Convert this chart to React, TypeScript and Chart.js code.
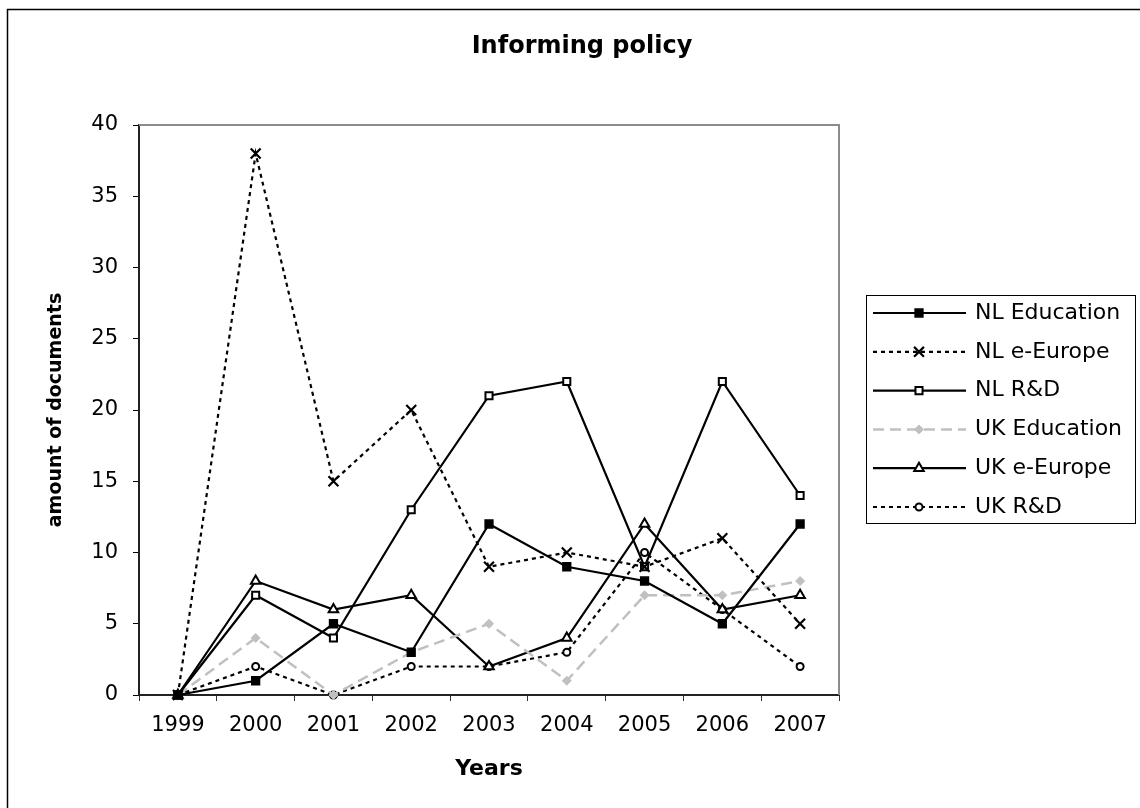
import { useEffect, useRef } from "react";
import { Chart, registerables } from "chart.js";
import { drawPoint } from "chart.js/helpers";

Chart.register(...registerables);

// Publication years on the category axis
const YEARS = ["1999", "2000", "2001", "2002", "2003", "2004", "2005", "2006", "2007"];

// Number of policy documents per year
const NL_EDUCATION = [0, 1, 5, 3, 12, 9, 8, 5, 12];
const NL_E_EUROPE = [0, 38, 15, 20, 9, 10, 9, 11, 5];
const NL_RD = [0, 7, 4, 13, 21, 22, 9, 22, 14];
const UK_EDUCATION = [0, 4, 0, 3, 5, 1, 7, 7, 8];
const UK_E_EUROPE = [0, 8, 6, 7, 2, 4, 12, 6, 7];
const UK_RD = [0, 2, 0, 2, 2, 3, 10, 6, 2];

const Y_MIN = 0;
const Y_MAX = 40;
const Y_STEP = 5;

const TITLE = "Informing policy";
const X_TITLE = "Years";
const Y_TITLE = "amount of documents";

const FONT = "'DejaVu Sans', 'Liberation Sans', Arial, sans-serif";
const GREY = "#c0c0c0";

type Series = {
  label: string;
  data: number[];
  color: string;
  fill: string;
  dash: number[];
  width: number;
  style: string;
  radius: number;
  markerBorder: number;
};

const SERIES: Series[] = [
  { label: "NL Education", data: NL_EDUCATION, color: "#000", fill: "#000", dash: [], width: 2.2, style: "rect", radius: 5.5, markerBorder: 1.5 },
  { label: "NL e-Europe", data: NL_E_EUROPE, color: "#000", fill: "#000", dash: [4, 4], width: 2.2, style: "crossRot", radius: 7, markerBorder: 2.2 },
  { label: "NL R&D", data: NL_RD, color: "#000", fill: "#fff", dash: [], width: 2.2, style: "rect", radius: 5, markerBorder: 2 },
  { label: "UK Education", data: UK_EDUCATION, color: GREY, fill: GREY, dash: [11, 6], width: 2.5, style: "rectRot", radius: 4.5, markerBorder: 1 },
  { label: "UK e-Europe", data: UK_E_EUROPE, color: "#000", fill: "#fff", dash: [], width: 2.2, style: "triangle", radius: 5.5, markerBorder: 2 },
  { label: "UK R&D", data: UK_RD, color: "#000", fill: "#fff", dash: [4, 4], width: 2.2, style: "circle", radius: 3.5, markerBorder: 2 },
];

// Outer frame, chart title, plot-area frame and the line/marker legend
const decorations = {
  id: "decorations",
  afterDraw(chart: any) {
    const { ctx, chartArea } = chart;
    ctx.save();

    // outer chart border
    ctx.strokeStyle = "#000";
    ctx.lineWidth = 1.5;
    ctx.strokeRect(7.5, 9.5, 1300, 1000);

    // title
    ctx.fillStyle = "#000";
    ctx.font = `bold 24px ${FONT}`;
    ctx.textAlign = "center";
    ctx.textBaseline = "middle";
    ctx.fillText(TITLE, 582, 47);

    // grey top and right edges of the plot area
    ctx.strokeStyle = "#8c8c8c";
    ctx.lineWidth = 2;
    ctx.beginPath();
    ctx.moveTo(chartArea.left, chartArea.top);
    ctx.lineTo(chartArea.right, chartArea.top);
    ctx.lineTo(chartArea.right, chartArea.bottom);
    ctx.stroke();

    // legend
    const boxL = 866.5;
    const boxT = 295.5;
    const boxR = 1135.5;
    const boxB = 523.5;
    ctx.fillStyle = "#fff";
    ctx.fillRect(boxL, boxT, boxR - boxL, boxB - boxT);
    ctx.strokeStyle = "#000";
    ctx.lineWidth = 1;
    ctx.strokeRect(boxL, boxT, boxR - boxL, boxB - boxT);

    const rowTop = 313;
    const rowGap = 38.8;
    const sx0 = 873;
    const sx1 = 966;
    const mx = 919;
    SERIES.forEach((s, i) => {
      const y = rowTop + i * rowGap;
      ctx.strokeStyle = s.color;
      ctx.lineWidth = s.width;
      ctx.setLineDash(s.dash);
      ctx.beginPath();
      ctx.moveTo(sx0, y);
      ctx.lineTo(sx1, y);
      ctx.stroke();
      ctx.setLineDash([]);
      ctx.fillStyle = s.fill;
      ctx.strokeStyle = s.color;
      ctx.lineWidth = s.markerBorder;
      drawPoint(ctx, { pointStyle: s.style as any, radius: s.radius, rotation: 0, borderWidth: s.markerBorder }, mx, y);

      ctx.fillStyle = "#000";
      ctx.font = `22px ${FONT}`;
      ctx.textAlign = "left";
      ctx.textBaseline = "middle";
      ctx.fillText(s.label, 975, y);
    });

    ctx.restore();
  },
};

export default function App() {
  const canvasRef = useRef<HTMLCanvasElement | null>(null);

  useEffect(() => {
    const canvas = canvasRef.current;
    if (!canvas) return;

    const chart = new Chart(canvas, {
      type: "line",
      data: {
        labels: YEARS,
        datasets: SERIES.map((s) => ({
          label: s.label,
          data: s.data,
          borderColor: s.color,
          borderWidth: s.width,
          borderDash: s.dash,
          backgroundColor: s.fill,
          pointStyle: s.style as any,
          pointRadius: s.radius,
          pointBorderWidth: s.markerBorder,
          pointBackgroundColor: s.fill,
          pointBorderColor: s.color,
          tension: 0,
          fill: false,
          clip: false as any,
        })),
      },
      options: {
        responsive: false,
        animation: false,
        devicePixelRatio: 1,
        layout: { padding: { left: 20, top: 125, right: 301, bottom: 0 } },
        font: { family: FONT },
        plugins: {
          legend: { display: false },
          title: { display: false },
          tooltip: { enabled: false },
        },
        scales: {
          x: {
            type: "category",
            offset: true,
            grid: {
              offset: true,
              drawOnChartArea: false,
              drawTicks: true,
              tickLength: 6,
              color: "#333",
              lineWidth: 1,
            },
            border: { display: true, color: "#222", width: 2 },
            ticks: {
              color: "#000",
              font: { family: FONT, size: 21 },
              padding: 12,
              maxRotation: 0,
              autoSkip: false,
            },
            title: {
              display: true,
              text: X_TITLE,
              color: "#000",
              font: { family: FONT, size: 22, weight: "bold", lineHeight: 1 },
              padding: { top: 0, bottom: 28 },
            },
            afterFit(scale: any) {
              scale.height = 113;
            },
          },
          y: {
            min: Y_MIN,
            max: Y_MAX,
            grid: {
              drawOnChartArea: false,
              drawTicks: true,
              tickLength: 6,
              color: "#000",
              lineWidth: 1,
            },
            border: { display: true, color: "#222", width: 2 },
            ticks: {
              stepSize: Y_STEP,
              color: "#000",
              font: { family: FONT, size: 21 },
              padding: 15,
            },
            title: {
              display: true,
              text: Y_TITLE,
              color: "#000",
              font: { family: FONT, size: 19, weight: "bold", lineHeight: 1 },
              padding: { top: 27, bottom: 0 },
            },
            afterFit(scale: any) {
              scale.width = 119;
            },
          },
        },
      },
      plugins: [decorations],
    });

    return () => chart.destroy();
  }, []);

  return (
    <div style={{ position: "absolute", left: 0, top: 0, width: 1140, height: 808, background: "#fff" }}>
      <canvas ref={canvasRef} width={1140} height={808} style={{ display: "block" }} />
    </div>
  );
}
